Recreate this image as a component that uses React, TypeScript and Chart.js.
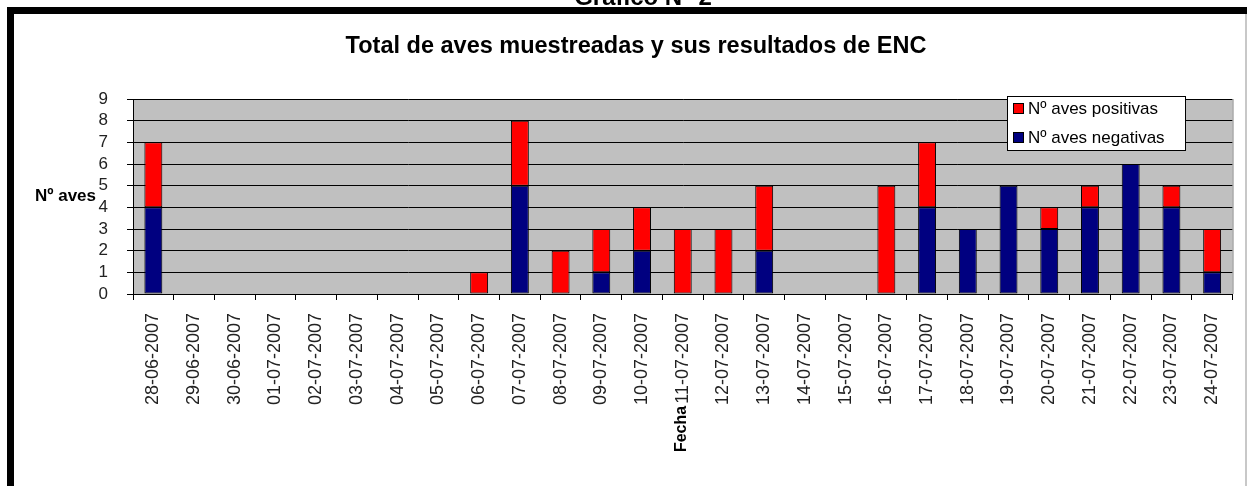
import React, { useEffect, useRef } from "react";
import { Chart, registerables } from "chart.js";

Chart.register(...registerables);

const fechas = [
  "28-06-2007", "29-06-2007", "30-06-2007", "01-07-2007", "02-07-2007", "03-07-2007",
  "04-07-2007", "05-07-2007", "06-07-2007", "07-07-2007", "08-07-2007", "09-07-2007",
  "10-07-2007", "11-07-2007", "12-07-2007", "13-07-2007", "14-07-2007", "15-07-2007",
  "16-07-2007", "17-07-2007", "18-07-2007", "19-07-2007", "20-07-2007", "21-07-2007",
  "22-07-2007", "23-07-2007", "24-07-2007",
];
const avesNegativas = [4, 0, 0, 0, 0, 0, 0, 0, 0, 5, 0, 1, 2, 0, 0, 2, 0, 0, 0, 4, 3, 5, 3, 4, 6, 4, 1];
const avesPositivas = [3, 0, 0, 0, 0, 0, 0, 0, 1, 3, 2, 2, 2, 3, 3, 3, 0, 0, 5, 3, 0, 0, 1, 1, 0, 1, 2];
const yTicks = [0, 1, 2, 3, 4, 5, 6, 7, 8, 9];

const chartTitle = "Total de aves muestreadas y sus resultados de ENC";
const topTitle = "Gráfico N° 2";
const yTitle = "Nº aves";
const xTitle = "Fecha";
const legendPos = "Nº aves positivas";
const legendNeg = "Nº aves negativas";

const RED = "#FF0000";
const NAVY = "#000080";
const FONT = "'Liberation Sans', Arial, sans-serif";

export default function App() {
  const ref = useRef<HTMLCanvasElement | null>(null);

  useEffect(() => {
    const canvas = ref.current;
    if (!canvas) return;

    const decor = {
      id: "decor",
      beforeDraw(chart: any) {
        const { ctx, chartArea } = chart;
        ctx.save();
        ctx.fillStyle = "#ffffff";
        ctx.fillRect(0, 0, chart.width, chart.height);
        ctx.fillStyle = "#C0C0C0";
        ctx.fillRect(chartArea.left, chartArea.top, chartArea.right - chartArea.left, chartArea.bottom - chartArea.top);
        ctx.restore();
      },
      afterDraw(chart: any) {
        const { ctx, chartArea } = chart;
        ctx.save();
        // plot area right edge
        ctx.strokeStyle = "#808080";
        ctx.lineWidth = 1;
        ctx.beginPath();
        ctx.moveTo(chartArea.right + 0.5, chartArea.top);
        ctx.lineTo(chartArea.right + 0.5, chartArea.bottom);
        ctx.stroke();

        // frame
        ctx.fillStyle = "#000";
        ctx.fillRect(7, 7, chart.width - 7, 7);
        ctx.fillRect(7, 7, 7, chart.height - 7);
        ctx.fillStyle = "#c8c8c8";
        ctx.fillRect(chart.width - 2, 14, 2, chart.height - 14);

        // top title (cut)
        ctx.fillStyle = "#000";
        ctx.textAlign = "center";
        ctx.textBaseline = "alphabetic";
        ctx.font = `bold 24px ${FONT}`;
        ctx.fillText(topTitle, 643, 5);

        // chart title
        ctx.font = `bold 23.5px ${FONT}`;
        ctx.textBaseline = "middle";
        ctx.fillText(chartTitle, 636, 47);

        // y title
        ctx.font = `bold 17px ${FONT}`;
        ctx.textAlign = "left";
        ctx.fillText(yTitle, 35, (chartArea.top + chartArea.bottom) / 2);

        // x title rotated
        ctx.save();
        ctx.translate((chartArea.left + chartArea.right) / 2 - 1, 429);
        ctx.rotate(-Math.PI / 2);
        ctx.font = `bold 16px ${FONT}`;
        ctx.textAlign = "center";
        ctx.textBaseline = "middle";
        ctx.fillText(xTitle, 0, 0);
        ctx.restore();

        // legend
        const lx = 1007, ly = 96, lw = 178, lh = 54;
        ctx.fillStyle = "#fff";
        ctx.fillRect(lx, ly, lw, lh);
        ctx.strokeStyle = "#000";
        ctx.lineWidth = 1;
        ctx.strokeRect(lx + 0.5, ly + 0.5, lw, lh);
        const items = [
          { c: RED, t: legendPos, y: 108 },
          { c: NAVY, t: legendNeg, y: 137 },
        ];
        ctx.font = `17px ${FONT}`;
        ctx.textAlign = "left";
        ctx.textBaseline = "middle";
        for (const it of items) {
          ctx.fillStyle = it.c;
          ctx.fillRect(1013, it.y - 5, 11, 11);
          ctx.strokeStyle = "#000";
          ctx.strokeRect(1013.5, it.y - 4.5, 10, 10);
          ctx.fillStyle = "#000";
          ctx.fillText(it.t, 1028, it.y + 1);
        }
        ctx.restore();
      },
    };

    const chart = new Chart(canvas, {
      type: "bar",
      data: {
        labels: fechas,
        datasets: [
          {
            label: legendNeg,
            data: avesNegativas.map((v) => (v === 0 ? null : v)),
            backgroundColor: NAVY,
            borderColor: "#000",
            borderWidth: 1,
            borderSkipped: false,
            barPercentage: 0.44,
            categoryPercentage: 1,
          },
          {
            label: legendPos,
            data: avesPositivas.map((v) => (v === 0 ? null : v)),
            backgroundColor: RED,
            borderColor: "#000",
            borderWidth: 1,
            borderSkipped: false,
            barPercentage: 0.44,
            categoryPercentage: 1,
          },
        ],
      },
      options: {
        responsive: false,
        animation: false,
        devicePixelRatio: 1,
        layout: { padding: { top: 99, right: 14, left: 0, bottom: 0 } },
        plugins: {
          legend: { display: false },
          title: { display: false },
          tooltip: { enabled: false },
        },
        scales: {
          x: {
            stacked: true,
            grid: {
              display: true,
              drawOnChartArea: false,
              drawTicks: true,
              tickLength: 6,
              color: "#000",
              offset: true,
            },
            border: { display: true, color: "#000", width: 1 },
            ticks: {
              autoSkip: false,
              minRotation: 90,
              maxRotation: 90,
              padding: 13,
              color: "#222",
              font: { size: 18, family: FONT },
            },
            afterFit: (s: any) => {
              s.height = 192;
            },
          },
          y: {
            stacked: true,
            min: 0,
            max: 9,
            afterBuildTicks: (s: any) => {
              s.ticks = yTicks.map((v) => ({ value: v }));
            },
            grid: {
              color: "#000",
              lineWidth: 1,
              drawTicks: true,
              tickLength: 6,
            },
            border: { display: true, color: "#000", width: 1 },
            ticks: {
              autoSkip: false,
              stepSize: 1,
              padding: 19,
              color: "#222",
              font: { size: 17, family: FONT },
            },
            afterFit: (s: any) => {
              s.width = 133;
            },
          },
        },
      },
      plugins: [decor],
    });

    return () => chart.destroy();
  }, []);

  return (
    <div style={{ position: "fixed", left: 0, top: 0, width: 1247, height: 486, background: "#fff" }}>
      <canvas ref={ref} width={1247} height={486} style={{ display: "block", width: 1247, height: 486 }} />
    </div>
  );
}
